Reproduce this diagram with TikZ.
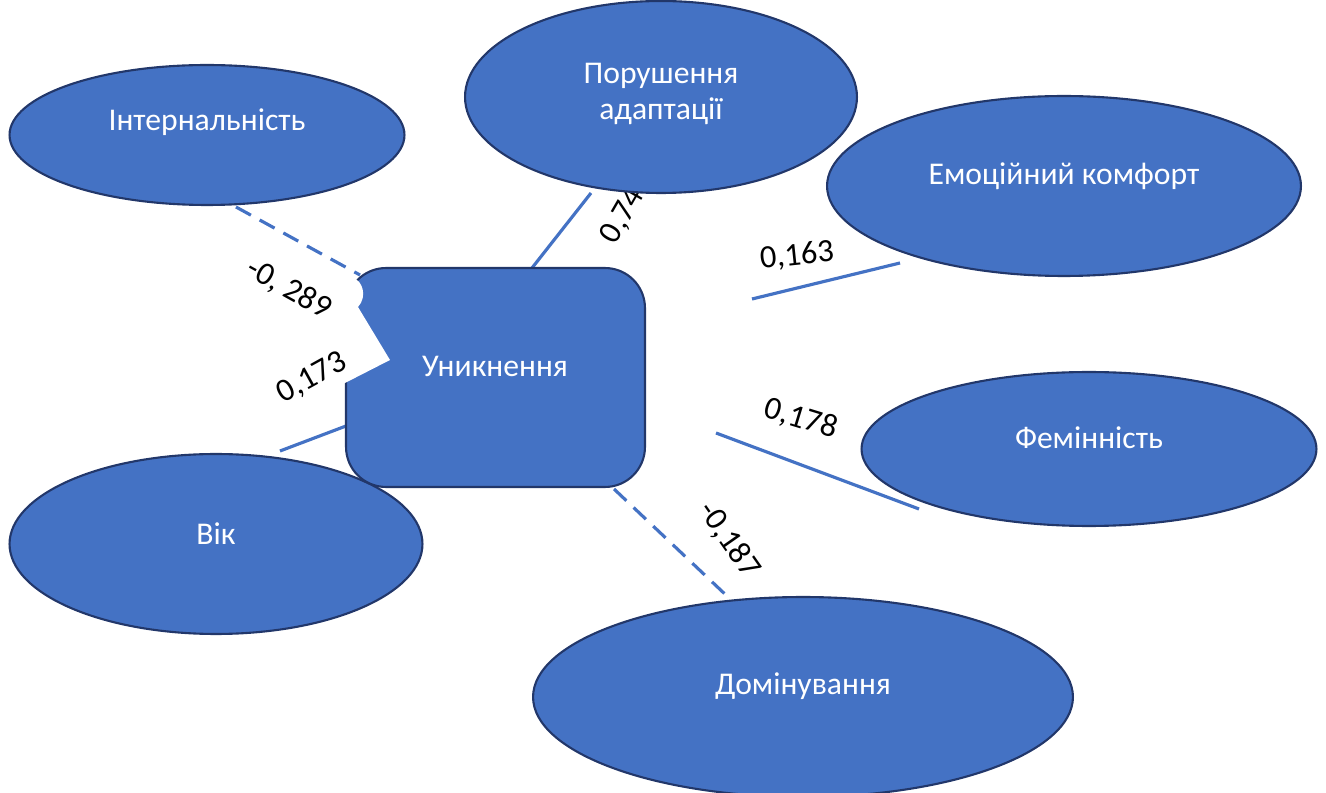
\documentclass[tikz,border=0pt]{standalone}
\usepackage{fontspec}
\setmainfont{Carlito}
\usetikzlibrary{shapes.geometric}
\definecolor{fillblue}{HTML}{4472C4}
\definecolor{edgeblue}{HTML}{22376A}
\begin{document}
\begin{tikzpicture}[x=0.02cm, y=-0.02cm,
  oval/.style={ellipse, fill=fillblue, draw=edgeblue, line width=1.2pt, inner sep=0pt},
  ttl/.style={text=white, font=\fontsize{18}{21}\selectfont, align=center, inner sep=0pt},
  conn/.style={draw=fillblue, line width=1.8pt},
  dconn/.style={conn, dash pattern=on 0.34cm off 0.2cm},
  lbl/.style={font=\fontsize{18.5}{22}\selectfont, inner sep=1pt}]
\useasboundingbox (0,0) rectangle (1326,793);
% connector end points
\coordinate (i1) at (236,207); \coordinate (i2) at (360,275);
\coordinate (p1) at (591,193); \coordinate (p2) at (532,268);
\coordinate (e1) at (752,299); \coordinate (e2) at (900,263);
\coordinate (f1) at (716,433); \coordinate (f2) at (919,509);
\coordinate (v1) at (280,451); \coordinate (v2) at (346,426);
\coordinate (d1) at (614,489); \coordinate (d2) at (728,597);
\draw[dconn] (i1) -- (i2);
\draw[conn] (p1) -- (p2);
\draw[conn] (e1) -- (e2);
\draw[conn] (f1) -- (f2);
\draw[conn] (v1) -- (v2);
\draw[dconn] (d1) -- (d2);
% labels
\node[lbl, rotate=60] (l74) at (623,216) {0,74};
\node[lbl, rotate=6] (l163) at (797,256) {0,163};
\node[lbl, rotate=-17] (l178) at (801,419) {0,178};
\node[lbl, rotate=-55] (l187) at (729,540) {-0,187};
% nodes
\node[oval, minimum width=7.9cm, minimum height=2.8cm] (intern) at (207,135) {};
\node[oval, minimum width=7.84cm, minimum height=3.84cm] (porush) at (661,97) {};
\node[oval, minimum width=9.48cm, minimum height=3.6cm] (emoc) at (1064,186) {};
\node[oval, minimum width=9.1cm, minimum height=3.08cm] (femin) at (1089,449) {};
\node[oval, minimum width=8.26cm, minimum height=3.6cm] (vik) at (216,544) {};
\node[oval, minimum width=10.8cm, minimum height=4cm] (domin) at (803,697) {};
\node[rectangle, rounded corners=0.8cm, fill=fillblue, draw=edgeblue, line width=1.2pt,
  minimum width=5.98cm, minimum height=4.38cm] (unik) at (495.5,377.5) {};
% titles
\node[ttl] (tintern) at (207,122) {Інтернальність};
\node[ttl] (tporush) at (661,94) {Порушення\\адаптації};
\node[ttl] (temoc) at (1064,176) {Емоційний комфорт};
\node[ttl] (tfemin) at (1089,438) {Фемінність};
\node[ttl] (tvik) at (216,534) {Вік};
\node[ttl] (tdomin) at (803,686) {Домінування};
\node[ttl] (tunik) at (495,366) {Уникнення};
% white notch left by the label boxes
\fill[white] (338,272) -- (353,278) .. controls (362,280) and (368,296) .. (358,307) -- (390,360) -- (345,383) -- (338,386) -- cycle;
\node[lbl, rotate=-29] (l289) at (289,289) {-0, 289};
\node[lbl, rotate=29] (l173) at (312,378) {0,173};
\end{tikzpicture}
\end{document}
